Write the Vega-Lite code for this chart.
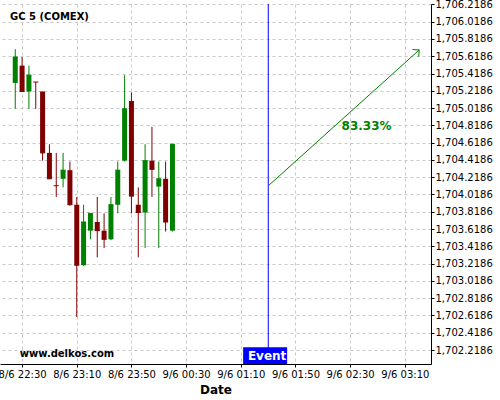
{
  "$schema": "https://vega.github.io/schema/vega-lite/v6.json",
  "autosize": "none",
  "width": 431,
  "height": 360,
  "padding": {"left": 0, "top": 4, "right": 69, "bottom": 36},
  "background": "white",
  "title": {"text": "GC 5 (COMEX)", "anchor": "start", "frame": "group", "offset": -15, "baseline": "alphabetic", "dx": 10, "dy": 16, "font": "DejaVu Sans", "fontSize": 10, "fontWeight": "bold", "color": "#000000"},
  "config": {
    "view": {"stroke": null},
    "font": "DejaVu Sans",
    "axis": {"labelFont": "DejaVu Sans", "labelFontSize": 10, "labelColor": "#000000", "domainColor": "#000000", "tickColor": "#000000", "gridColor": "#c8c8c8", "gridDash": [3, 3], "gridWidth": 1, "tickSize": 3, "labelPadding": 2, "labelOverlap": false}
  },
  "datasets": {
    "candles": [
      {"t": "2020-06-08T22:25:00", "open": 1705.31, "high": 1705.70, "low": 1705.01, "close": 1705.61},
      {"t": "2020-06-08T22:30:00", "open": 1705.51, "high": 1705.61, "low": 1705.21, "close": 1705.21},
      {"t": "2020-06-08T22:35:00", "open": 1705.21, "high": 1705.51, "low": 1705.01, "close": 1705.40},
      {"t": "2020-06-08T22:40:00", "open": 1705.32, "high": 1705.32, "low": 1705.01, "close": 1705.32},
      {"t": "2020-06-08T22:45:00", "open": 1705.21, "high": 1705.21, "low": 1704.41, "close": 1704.50},
      {"t": "2020-06-08T22:50:00", "open": 1704.50, "high": 1704.60, "low": 1704.20, "close": 1704.20},
      {"t": "2020-06-08T22:55:00", "open": 1704.12, "high": 1704.50, "low": 1703.99, "close": 1704.12},
      {"t": "2020-06-08T23:00:00", "open": 1704.20, "high": 1704.50, "low": 1704.10, "close": 1704.30},
      {"t": "2020-06-08T23:05:00", "open": 1704.30, "high": 1704.40, "low": 1703.89, "close": 1703.90},
      {"t": "2020-06-08T23:10:00", "open": 1703.90, "high": 1703.99, "low": 1702.60, "close": 1703.20},
      {"t": "2020-06-08T23:15:00", "open": 1703.20, "high": 1703.90, "low": 1703.19, "close": 1703.70},
      {"t": "2020-06-08T23:20:00", "open": 1703.60, "high": 1703.80, "low": 1703.50, "close": 1703.80},
      {"t": "2020-06-08T23:25:00", "open": 1703.70, "high": 1703.99, "low": 1703.29, "close": 1703.60},
      {"t": "2020-06-08T23:30:00", "open": 1703.60, "high": 1703.80, "low": 1703.40, "close": 1703.50},
      {"t": "2020-06-08T23:35:00", "open": 1703.50, "high": 1703.99, "low": 1703.49, "close": 1703.90},
      {"t": "2020-06-08T23:40:00", "open": 1703.90, "high": 1704.40, "low": 1703.80, "close": 1704.30},
      {"t": "2020-06-08T23:45:00", "open": 1704.41, "high": 1705.40, "low": 1704.40, "close": 1705.01},
      {"t": "2020-06-08T23:50:00", "open": 1705.10, "high": 1705.20, "low": 1703.80, "close": 1704.00},
      {"t": "2020-06-08T23:55:00", "open": 1703.90, "high": 1704.10, "low": 1703.29, "close": 1703.81},
      {"t": "2020-06-09T00:00:00", "open": 1703.81, "high": 1704.60, "low": 1703.40, "close": 1704.41},
      {"t": "2020-06-09T00:05:00", "open": 1704.41, "high": 1704.80, "low": 1703.99, "close": 1704.31},
      {"t": "2020-06-09T00:10:00", "open": 1704.11, "high": 1704.40, "low": 1703.40, "close": 1704.20},
      {"t": "2020-06-09T00:15:00", "open": 1704.20, "high": 1704.40, "low": 1703.59, "close": 1703.70},
      {"t": "2020-06-09T00:20:00", "open": 1703.60, "high": 1704.60, "low": 1703.59, "close": 1704.60}
    ],
    "event": [{"t": "2020-06-09T01:30:00", "label": "Event"}],
    "arrow": [
      {"t": "2020-06-09T01:30:00", "v": 1704.117},
      {"t": "2020-06-09T03:20:30", "v": 1705.691}
    ],
    "note": [{"t": "2020-06-09T02:42:00", "v": 1704.811, "label": "83.33%"}],
    "mark": [{"t": "2020-06-08T22:28:20", "v": 1702.1376, "label": "www.delkos.com"}]
  },
  "layer": [
    {
      "data": {"name": "candles"},
      "mark": {"type": "rule", "strokeWidth": 1},
      "encoding": {
        "x": {"field": "t", "type": "temporal", "title": "Date",
          "scale": {"domain": [{"year": 2020, "month": 6, "date": 8, "hours": 22, "minutes": 17, "seconds": 30}, {"year": 2020, "month": 6, "date": 9, "hours": 3, "minutes": 25, "seconds": 30}], "nice": false},
          "axis": {"orient": "bottom", "format": "%-d/%-m %H:%M", "grid": true, "tickCount": 20, "titleFont": "DejaVu Sans", "titleFontSize": 12, "titleFontWeight": "bold", "titleColor": "#000000", "titlePadding": 5,
            "values": [
              {"year": 2020, "month": 6, "date": 8, "hours": 22, "minutes": 30},
              {"year": 2020, "month": 6, "date": 8, "hours": 23, "minutes": 10},
              {"year": 2020, "month": 6, "date": 8, "hours": 23, "minutes": 50},
              {"year": 2020, "month": 6, "date": 9, "hours": 0, "minutes": 30},
              {"year": 2020, "month": 6, "date": 9, "hours": 1, "minutes": 10},
              {"year": 2020, "month": 6, "date": 9, "hours": 1, "minutes": 50},
              {"year": 2020, "month": 6, "date": 9, "hours": 2, "minutes": 30},
              {"year": 2020, "month": 6, "date": 9, "hours": 3, "minutes": 10}
            ]}},
        "y": {"field": "low", "type": "quantitative", "title": null,
          "scale": {"domain": [1702.0566, 1706.2232], "nice": false, "zero": false},
          "axis": {"orient": "right", "format": ",.4f", "grid": true, "labelPadding": 1, "tickCount": 50,
            "values": [1702.2186, 1702.4186, 1702.6186, 1702.8186, 1703.0186, 1703.2186, 1703.4186, 1703.6186, 1703.8186, 1704.0186, 1704.2186, 1704.4186, 1704.6186, 1704.8186, 1705.0186, 1705.2186, 1705.4186, 1705.6186, 1705.8186, 1706.0186, 1706.2186]}},
        "y2": {"field": "high"},
        "color": {"condition": {"test": "datum.close > datum.open", "value": "#008000"}, "value": "#800000"}
      }
    },
    {
      "data": {"name": "candles"},
      "mark": {"type": "bar", "size": 5},
      "encoding": {
        "x": {"field": "t", "type": "temporal", "title": "Date"},
        "y": {"field": "open", "type": "quantitative", "title": null},
        "y2": {"field": "close"},
        "color": {"condition": {"test": "datum.close > datum.open", "value": "#008000"}, "value": "#800000"}
      }
    },
    {
      "data": {"name": "candles"},
      "mark": {"type": "tick", "orient": "horizontal", "size": 5, "thickness": 1, "opacity": 1},
      "encoding": {
        "x": {"field": "t", "type": "temporal", "title": "Date"},
        "y": {"field": "close", "type": "quantitative", "title": null},
        "color": {"condition": {"test": "datum.close > datum.open", "value": "#008000"}, "value": "#800000"}
      }
    },
    {
      "data": {"name": "event"},
      "mark": {"type": "rule", "color": "#0000ff", "strokeWidth": 1, "xOffset": 0.13},
      "encoding": {
        "x": {"field": "t", "type": "temporal", "title": "Date"}
      }
    },
    {
      "data": {"name": "event"},
      "mark": {"type": "bar", "size": 44, "color": "#0000ff", "xOffset": -3},
      "encoding": {
        "x": {"field": "t", "type": "temporal", "title": "Date"},
        "y": {"datum": 1702.2496, "type": "quantitative"},
        "y2": {"datum": 1702.0566}
      }
    },
    {
      "data": {"name": "event"},
      "mark": {"type": "text", "color": "#ffffff", "font": "DejaVu Sans", "fontSize": 12, "fontWeight": "bold", "align": "center", "baseline": "alphabetic", "dx": -1},
      "encoding": {
        "x": {"field": "t", "type": "temporal", "title": "Date"},
        "y": {"datum": 1702.103, "type": "quantitative"},
        "text": {"field": "label"}
      }
    },
    {
      "data": {"name": "arrow"},
      "mark": {"type": "line", "color": "#008000", "strokeWidth": 1},
      "encoding": {
        "x": {"field": "t", "type": "temporal", "title": "Date"},
        "y": {"field": "v", "type": "quantitative", "title": null}
      }
    },
    {
      "data": {"name": "arrow"},
      "transform": [{"filter": "datum.v > 1705"}],
      "mark": {"type": "point", "shape": "M -1 1 L 0 0 L 1 1", "size": 90, "angle": 48.6, "filled": false, "color": "#008000", "strokeWidth": 1, "opacity": 1},
      "encoding": {
        "x": {"field": "t", "type": "temporal", "title": "Date"},
        "y": {"field": "v", "type": "quantitative", "title": null}
      }
    },
    {
      "data": {"name": "note"},
      "mark": {"type": "text", "color": "#008000", "font": "DejaVu Sans", "fontSize": 12, "fontWeight": "bold", "align": "center", "baseline": "middle"},
      "encoding": {
        "x": {"field": "t", "type": "temporal", "title": "Date"},
        "y": {"field": "v", "type": "quantitative", "title": null},
        "text": {"field": "label"}
      }
    },
    {
      "data": {"name": "mark"},
      "mark": {"type": "text", "color": "#000000", "font": "DejaVu Sans", "fontSize": 10, "fontWeight": "bold", "align": "left", "baseline": "alphabetic"},
      "encoding": {
        "x": {"field": "t", "type": "temporal", "title": "Date"},
        "y": {"field": "v", "type": "quantitative", "title": null},
        "text": {"field": "label"}
      }
    }
  ]
}
